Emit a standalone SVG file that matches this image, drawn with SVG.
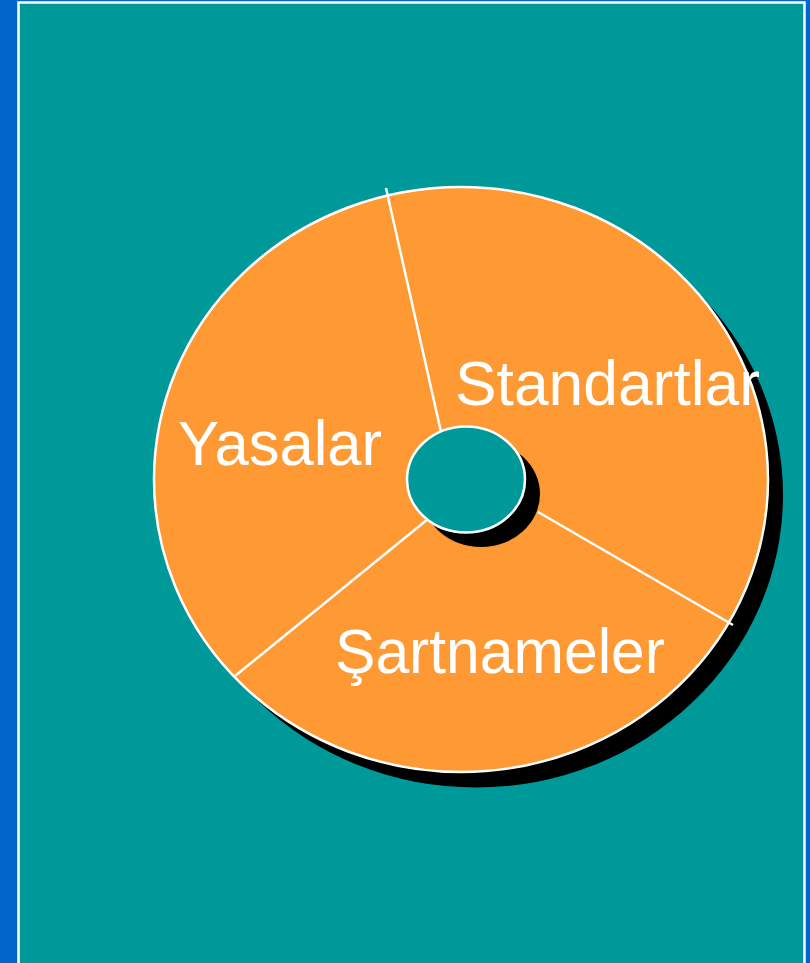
<svg xmlns="http://www.w3.org/2000/svg" width="810" height="963" viewBox="0 0 810 963">
<style>
.lbl{font-family:"Liberation Sans",Arial,sans-serif;font-size:63px;fill:#ffffff}
.div{stroke:#ffffff;stroke-width:2.5;fill:none}
</style>
<rect x="0" y="0" width="810" height="963" fill="#0066cc"/>
<rect x="18.5" y="2.5" width="786" height="980" fill="#009999" stroke="#ffffff" stroke-width="2.5"/>
<g id="shadow">
<ellipse cx="476" cy="495" rx="307" ry="292.5" fill="#000000"/>
</g>
<g id="ring">
<ellipse cx="461" cy="479.5" rx="307" ry="292.5" fill="#ff9933" stroke="#ffffff" stroke-width="2.5"/>
</g>
<g id="connectors">
<line class="div" x1="386" y1="188" x2="441" y2="432"/>
<line class="div" x1="428" y1="519" x2="235" y2="676"/>
<line class="div" x1="538" y1="512" x2="733" y2="625"/>
</g>
<g id="hole">
<ellipse cx="481" cy="494" rx="59" ry="53" fill="#000000"/>
<ellipse cx="466" cy="479.5" rx="59" ry="53" fill="#009999" stroke="#ffffff" stroke-width="2.5"/>
</g>
<g id="standartlar"><text class="lbl" x="455" y="405" textLength="305" lengthAdjust="spacingAndGlyphs">Standartlar</text></g>
<g id="yasalar"><text class="lbl" x="178" y="465" textLength="204" lengthAdjust="spacingAndGlyphs">Yasalar</text></g>
<g id="sartnameler"><text class="lbl" x="335" y="673" textLength="330" lengthAdjust="spacingAndGlyphs">Şartnameler</text></g>
</svg>
